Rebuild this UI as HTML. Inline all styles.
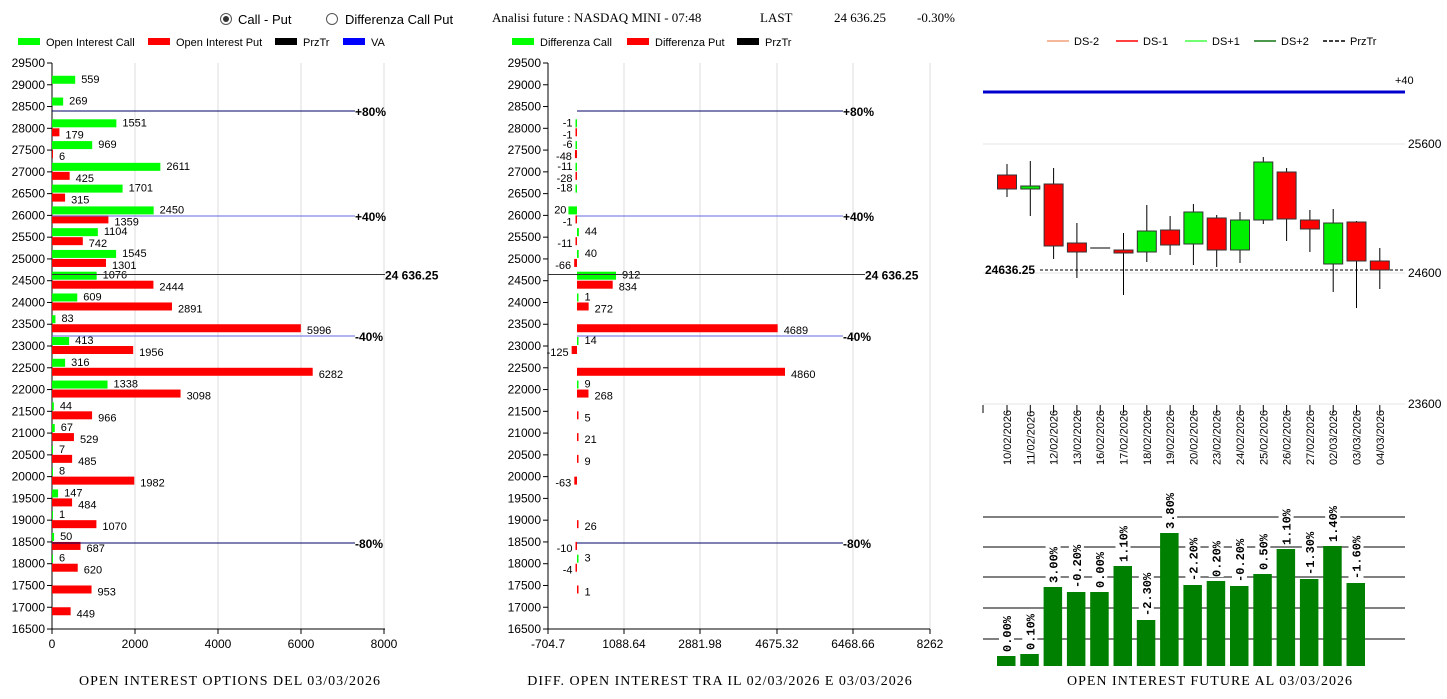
<!DOCTYPE html>
<html><head><meta charset="utf-8"><style>
body{margin:0;background:#fff;width:1447px;height:694px;overflow:hidden}
svg text{font-family:"Liberation Sans",sans-serif;font-size:11px;fill:#000}
.serif{font-family:"Liberation Serif",serif !important;font-size:13px}
.tt{font-family:"Liberation Serif",serif !important;font-size:14px;letter-spacing:1px}
.b{font-weight:bold;font-size:12px}
</style></head><body>
<svg id="s" width="1447" height="694" xmlns="http://www.w3.org/2000/svg"></svg>
<script>
let h='';
const A=s=>h+=s;
const T=(x,y,t,o='')=>A(`<text x="${x}" y="${y}" ${o}>${t}</text>`);
const R=(x,y,w,hh,c,o='')=>A(`<rect x="${x}" y="${y}" width="${w}" height="${hh}" fill="${c}" ${o}/>`);
const L=(x1,y1,x2,y2,c,w=1,o='')=>A(`<line x1="${x1}" y1="${y1}" x2="${x2}" y2="${y2}" stroke="${c}" stroke-width="${w}" ${o}/>`);
A('<circle cx="226" cy="19" r="5.5" fill="#fff" stroke="#555"/><circle cx="226" cy="19" r="3" fill="#333"/>');
T(238,24,'Call - Put','style="font-size:13px"');
A('<circle cx="332" cy="19" r="5.5" fill="#fff" stroke="#555"/>');
T(345,24,'Differenza Call Put','style="font-size:13px"');
T(492,22,'Analisi future : NASDAQ MINI - 07:48','class="serif"');
T(760,22,'LAST','class="serif"');T(834,22,'24 636.25','class="serif"');T(917,22,'-0.30%','class="serif"');
function leg(items,y){for(const[x,c,t]of items){R(x,y-4,22,7,c);T(x+28,y+4,t);}}
leg([[18,'#00ff00','Open Interest Call'],[148,'#ff0000','Open Interest Put'],[275,'#000','PrzTr'],[343,'#0000ff','VA']],42);
leg([[512,'#00ff00','Differenza Call'],[627,'#ff0000','Differenza Put'],[737,'#000','PrzTr']],42);
const ys=s=>63+(29500-s)/500*21.77;
function yaxis(ax){for(let s=29500;s>=16500;s-=500){const y=ys(s);L(ax-5,y,ax,y,'#000');T(ax-7,y+4,s,'text-anchor="end" style="font-size:12px"');}
 L(ax,63,ax,629,'#000');L(ax,629,ax+(ax<100?333:382),629,'#000');}
const x0=52,k=0.0415;
for(const v of[2000,4000,6000,8000]){const x=x0+v*k;L(x,63,x,629,'#ddd');}
yaxis(52);
for(const v of[0,2000,4000,6000,8000]){const x=x0+v*k;L(x,629,x,634,'#000');T(x,648,v,'text-anchor="middle" style="font-size:12px"');}
const D=[[29000,559,null],[28500,269,null],[28000,1551,179],[27500,969,6],[27000,2611,425],[26500,1701,315],[26000,2450,1359],[25500,1104,742],[25000,1545,1301],[24500,1076,2444],[24000,609,2891],[23500,83,5996],[23000,413,1956],[22500,316,6282],[22000,1338,3098],[21500,44,966],[21000,67,529],[20500,7,485],[20000,8,1982],[19500,147,484],[19000,1,1070],[18500,50,687],[18000,6,620],[17500,null,953],[17000,null,449]];
for(const[s,c,p]of D){const y=ys(s);
 if(c!=null){const w=Math.max(1,c*k);R(x0,y-9,w,8,'#00ff00');T(x0+w+6,y-2,c);}
 if(p!=null){const w=Math.max(1,p*k);R(x0,y,w,8,'#ff0000');T(x0+w+6,y+10,p);}}
function lvl(x1,x2,y,c,t,o){L(x1,y,x2,y,c);T(x2,y+5,t,o||'class="b"');}
lvl(52,355,111,'#000066','+80%');lvl(52,355,216,'#6666dd','+40%');lvl(52,385,274.5,'#333','24 636.25');lvl(52,355,336,'#6666dd','-40%');lvl(52,355,543,'#000066','-80%');
const m0=577,mk=0.0428,ax=548;
for(const v of[624,700,777,853,930])L(v,63,v,629,'#ddd');
yaxis(548);
[['-704.7',548],['1088.64',624],['2881.98',700],['4675.32',777],['6468.66',853],['8262',930]].forEach(([t,x])=>{L(x,629,x,634,'#000');T(x,648,t,'text-anchor="middle" style="font-size:12px"');});
const M=[[28000,-1,-1],[27500,-6,-48],[27000,-11,-28],[26500,-18,null],[26000,-200,-1],[25500,44,-11],[25000,40,-66],[24500,912,834],[24000,1,272],[23500,null,4689],[23000,14,-125],[22500,null,4860],[22000,9,268],[21500,null,5],[21000,null,21],[20500,null,9],[20000,null,-63],[19000,null,26],[18500,null,-10],[18000,3,-4],[17500,null,1]];
for(const[s,c,p]of M){const y=ys(s);
 for(const[v,col,yy,ty]of[[c,'#00ff00',y-9,y-2],[p,'#ff0000',y,y+10]]){if(v==null)continue;
  const w=Math.max(1.5,Math.abs(v)*mk);const xs=v>=0?m0:m0-w;R(xs,yy,w,8,col);
  if(s==26000&&v==-200){T(xs-2,ty,'20','text-anchor="end"');continue;}
  if(v>=0)T(m0+w+6,ty,v);else T(xs-3,ty,v,'text-anchor="end"');}}
lvl(577,843,111,'#000066','+80%');lvl(577,843,216,'#6666dd','+40%');lvl(548,865,274.5,'#333','24 636.25');lvl(577,843,336,'#6666dd','-40%');lvl(577,843,543,'#000066','-80%');
[[1047,'#f4a07a','DS-2'],[1116,'#ff0000','DS-1'],[1185,'#44ff44','DS+1'],[1254,'#117711','DS+2']].forEach(([x,c,t])=>{L(x,41,x+22,41,c,1.5);T(x+27,45,t);});
L(1323,41,1345,41,'#000',1.5,'stroke-dasharray="4,2"');T(1350,45,'PrzTr');
L(983,92,1405,92,'#0000cc',3);T(1395,84,'+40');
for(const[y,t]of[[144,'25600'],[273,'24600'],[404,'23600']]){L(983,y,1405,y,'#e4e4e4');T(1408,y+4,t,'style="font-size:12px"');}
L(1040,270,1405,270,'#000',1,'stroke-dasharray="3,2"');T(985,274,'24636.25','style="font-weight:bold;font-size:12px"');
const C=[[175,189,164,197,'r'],[186,189,161,216,'g'],[184,246,168,259,'r'],[243,252,223,278,'r'],[248,248,248,248,'d'],[250,253,233,295,'r'],[231,252,205,262,'g'],[230,245,216,255,'r'],[212,244,204,265,'g'],[218,250,215,267,'r'],[220,250,212,263,'g'],[162,220,157,224,'g'],[172,219,168,241,'r'],[220,229,210,252,'r'],[223,264,209,292,'g'],[222,261,221,308,'r'],[261,270,248,289,'r']];
const dates=['10/02/2026','11/02/2026','12/02/2026','13/02/2026','16/02/2026','17/02/2026','18/02/2026','19/02/2026','20/02/2026','23/02/2026','24/02/2026','25/02/2026','26/02/2026','27/02/2026','02/03/2026','03/03/2026','04/03/2026'];
L(983,405,983,413,'#000');
C.forEach(([t,b,wt,wb,c],i)=>{const x=1007+i*23.3;
 if(c=='d')L(x-10,t,x+10,t,'#000');else{L(x,wt,x,wb,'#000');R(x-9.5,t,19,b-t,c=='r'?'#ff0000':'#00ee00','stroke="#333" stroke-width="1"');}
 L(x,405,x,413,'#000');T(0,0,dates[i],`transform="translate(${x+4},465) rotate(-90)" style="font-size:11px"`);});
for(const y of[517,547,577,608,639])L(983,y,1405,y,'#000');
const B=[[656,'0.00%'],[654,'0.10%'],[587,'3.00%'],[592,'-0.20%'],[592,'0.00%'],[566,'1.10%'],[620,'-2.30%'],[533,'3.80%'],[585,'-2.20%'],[581,'0.20%'],[586,'-0.20%'],[574,'0.50%'],[549,'1.10%'],[579,'-1.30%'],[546,'1.40%'],[583,'-1.60%']];
B.forEach(([t,l],i)=>{const x=997+i*23.3;R(x,t,18.5,666-t,'#008000');
 const tx=x+14,ty=t-4;const len=l.length*7.5+2;R(x+2,ty-len,15,len,'#fff');
 T(0,0,l,`transform="translate(${tx},${ty}) rotate(-90)" style="font-weight:bold;font-size:12px;font-family:'Liberation Mono',monospace"`);});
T(230,685,'OPEN INTEREST OPTIONS DEL 03/03/2026','class="tt" text-anchor="middle"');
T(720,685,'DIFF. OPEN INTEREST TRA IL 02/03/2026 E 03/03/2026','class="tt" text-anchor="middle"');
T(1210,685,'OPEN INTEREST FUTURE AL 03/03/2026','class="tt" text-anchor="middle"');
document.getElementById('s').innerHTML=h;
</script>
</body></html>
